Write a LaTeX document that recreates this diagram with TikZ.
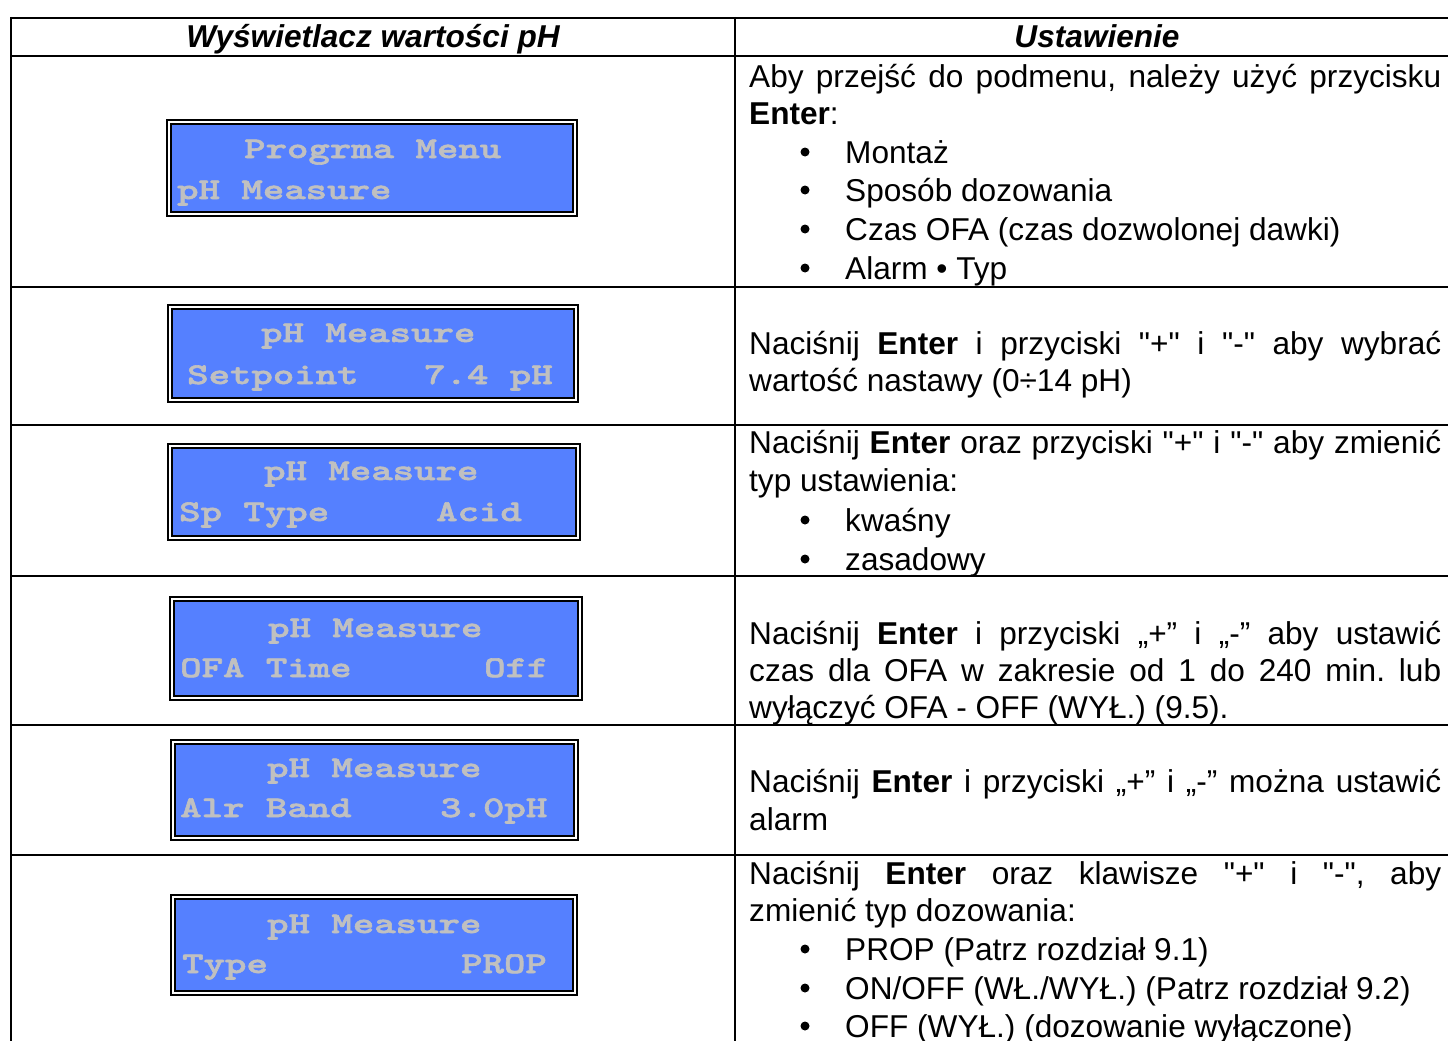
\documentclass[tikz,border=0pt]{standalone}
\usepackage{fontspec}
\setmainfont{Liberation Sans}
\newfontfamily\nolig{Liberation Sans}
\newfontfamily\lcdfont{lmmonolt10-bold.otf}[FakeStretch=1.36,FakeBold=2]
\usepackage{tikz}
\frenchspacing

\definecolor{lcdblue}{RGB}{85,128,255}
\definecolor{lcdgrey}{RGB}{192,192,192}
\newcommand{\dq}{{\nolig\symbol{34}}}

\begin{document}
\begin{tikzpicture}[x=1pt,y=-1pt,
    every node/.style={inner sep=0pt,font=\fontsize{31.6}{38.5}\selectfont},
    grid/.style={line width=2.2pt},
    txt/.style={anchor=base west},
    head/.style={anchor=base,font=\fontsize{31.6}{38.5}\selectfont\bfseries\itshape},
    lcdtxt/.style={anchor=base west,text=lcdgrey,font=\fontsize{30}{36}\selectfont\lcdfont}]
\useasboundingbox (0,0) rectangle (1448,1041);
\clip (0,0) rectangle (1448,1041);

% table frame
\draw[grid] (11,18) -- (1462,18);
\draw[grid] (11,56) -- (1462,56);
\foreach \yr in {287,425,576,725,855}
    \draw[grid] (11,\yr) -- (1462,\yr);
\draw[grid] (11,17) -- (11,1045);
\draw[grid] (735,17) -- (735,1045);

\node[head] (headl) at (373,48) {Wyświetlacz wartości pH};
\node[head] (headr) at (1097,48) {Ustawienie};

% lcd screens
\foreach \xa/\ya/\xb/\yb in {167/120/577/216, 168/305/578/402, 168/444/580/540, 170/597/582/700, 171/740/578/840, 171/895/577/995} {
    \draw[line width=1.2pt] (\xa,\ya) rectangle (\xb,\yb);
    \draw[line width=1.6pt,fill=lcdblue] (\xa+4,\ya+4) rectangle (\xb-4,\yb-4);
}
\node[lcdtxt] (d1a) at (244,158) {Progrma Menu};
\node[lcdtxt] (d1b) at (177,199) {pH Measure};
\node[lcdtxt] (d2a) at (261,342) {pH Measure};
\node[lcdtxt] (d2b) at (187,384) {Setpoint};
\node[lcdtxt] (d2c) at (424,384) {7.4 pH};
\node[lcdtxt] (d3a) at (264,480) {pH Measure};
\node[lcdtxt] (d3b) at (179,521) {Sp Type};
\node[lcdtxt] (d3c) at (436,521) {Acid};
\node[lcdtxt] (d4a) at (268,637) {pH Measure};
\node[lcdtxt] (d4b) at (180,677) {OFA Time};
\node[lcdtxt] (d4c) at (484,677) {Off};
\node[lcdtxt] (d5a) at (267,777) {pH Measure};
\node[lcdtxt] (d5b) at (180,817) {Alr Band};
\node[lcdtxt] (d5c) at (440,817) {3.0pH};
\node[lcdtxt] (d6a) at (267,933) {pH Measure};
\node[lcdtxt] (d6b) at (182,973) {Type};
\node[lcdtxt] (d6c) at (461,973) {PROP};

% settings column
\foreach \yb in {152,190,229,268,520,559,949,988,1026}
    \fill (805,\yb) circle (4.5);

\node[txt] (r1a) at (749,87) {\makebox[692pt][s]{Aby przejść do podmenu, należy użyć przycisku}};
\node[txt] (r1b) at (749,124) {\textbf{Enter}:};
\node[txt] (r1c) at (845,163) {Montaż};
\node[txt] (r1d) at (845,201) {Sposób dozowania};
\node[txt] (r1e) at (845,240) {Czas OFA (czas dozwolonej dawki)};
\node[txt] (r1f) at (845,279) {Alarm • Typ};

\node[txt] (r2a) at (749,354) {\makebox[692pt][s]{Naciśnij \textbf{Enter} i przyciski \dq+\dq{} i \dq-\dq{} aby wybrać}};
\node[txt] (r2b) at (749,391) {wartość nastawy (0÷14 pH)};

\node[txt] (r3a) at (749,453) {\makebox[692pt][s]{Naciśnij \textbf{Enter} oraz przyciski \dq+\dq{} i \dq-\dq{} aby zmienić}};
\node[txt] (r3b) at (749,491) {typ ustawienia:};
\node[txt] (r3c) at (845,531) {kwaśny};
\node[txt] (r3d) at (845,570) {zasadowy};

\node[txt] (r4a) at (749,644) {\makebox[692pt][s]{Naciśnij \textbf{Enter} i przyciski „+” i „-” aby ustawić}};
\node[txt] (r4b) at (749,681) {\makebox[692pt][s]{czas dla OFA w zakresie od 1 do 240 min. lub}};
\node[txt] (r4c) at (749,718) {wyłączyć OFA - OFF (WYŁ.) (9.5).};

\node[txt] (r5a) at (749,792) {\makebox[692pt][s]{Naciśnij \textbf{Enter} i przyciski „+” i „-” można ustawić}};
\node[txt] (r5b) at (749,830) {alarm};

\node[txt] (r6a) at (749,884) {\makebox[692pt][s]{Naciśnij \textbf{Enter} oraz klawisze \dq+\dq{} i \dq-\dq, aby}};
\node[txt] (r6b) at (749,921) {zmienić typ dozowania:};
\node[txt] (r6c) at (845,960) {PROP (Patrz rozdział 9.1)};
\node[txt] (r6d) at (845,999) {ON/OFF (WŁ./WYŁ.) (Patrz rozdział 9.2)};
\node[txt] (r6e) at (845,1037) {OFF (WYŁ.) (dozowanie wyłączone)};
\end{tikzpicture}
\end{document}
